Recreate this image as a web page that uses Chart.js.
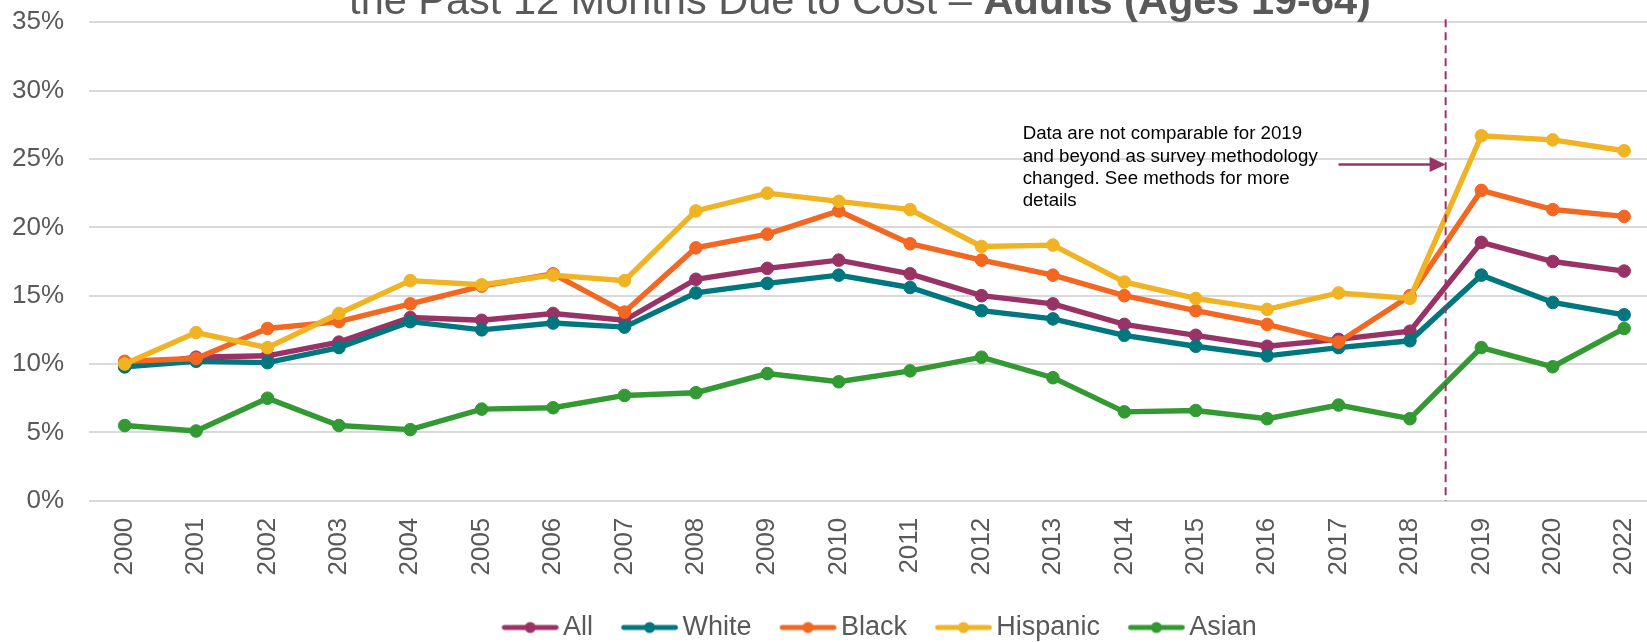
<!DOCTYPE html>
<html>
<head>
<meta charset="utf-8">
<script src="https://cdn.jsdelivr.net/npm/chart.js@4.4.1/dist/chart.umd.min.js"></script>
<style>
html,body{margin:0;padding:0;background:#ffffff;}
#wrap{width:1647px;height:642px;position:relative;}
</style>
</head>
<body>
<div id="wrap"><canvas id="c"></canvas></div>
<script>
// ---- data ----
const years = ['2000','2001','2002','2003','2004','2005','2006','2007','2008','2009','2010','2011','2012','2013','2014','2015','2016','2017','2018','2019','2020','2022'];
const seriesNames = ['All','White','Black','Hispanic','Asian'];
const allAdults = [9.8,10.5,10.6,11.6,13.4,13.2,13.7,13.2,16.2,17.0,17.6,16.6,15.0,14.4,12.9,12.1,11.3,11.8,12.4,18.9,17.5,16.8];
const white     = [9.8,10.2,10.1,11.2,13.1,12.5,13.0,12.7,15.2,15.9,16.5,15.6,13.9,13.3,12.1,11.3,10.6,11.2,11.7,16.5,14.5,13.6];
const black     = [10.2,10.4,12.6,13.1,14.4,15.7,16.6,13.8,18.5,19.5,21.2,18.8,17.6,16.5,15.0,13.9,12.9,11.6,15.0,22.7,21.3,20.8];
const hispanic  = [10.0,12.3,11.2,13.7,16.1,15.8,16.5,16.1,21.2,22.5,21.9,21.3,18.6,18.7,16.0,14.8,14.0,15.2,14.8,26.7,26.4,25.6];
const asian     = [5.5,5.1,7.5,5.5,5.2,6.7,6.8,7.7,7.9,9.3,8.7,9.5,10.5,9.0,6.5,6.6,6.0,7.0,6.0,11.2,9.8,12.6];
const yTickValues = [0,5,10,15,20,25,30,35];
const titleRegular = 'the Past 12 Months Due to Cost \u2013 ';
const titleBold = 'Adults (Ages 19-64)';
const noteLines = ['Data are not comparable for 2019','and beyond as survey methodology','changed. See methods for more','details'];
const breakPosition = 18.5;   // between 2018 and 2019
const arrowLevel = 24.6;      // % level of the annotation arrow
const arrowStart = 17.0;

// ---- styles ----
const FONT = '"Liberation Sans", Arial, Helvetica, sans-serif';
const GRAY = '#595959';
const colors = ['#993366','#00777F','#F26722','#F0B323','#339933'];
const seriesValues = [allAdults, white, black, hispanic, asian];

// legend symbol: line with a dot, placed on the right part of a wider transparent image
function legendIcon(color){
  const c = document.createElement('canvas');
  c.width = 86; c.height = 14;
  const g = c.getContext('2d');
  const s = 28.05;
  g.strokeStyle = color; g.lineWidth = 4.8; g.lineCap = 'round';
  g.beginPath(); g.moveTo(s + 2.5, 7); g.lineTo(s + 54.5, 7); g.stroke();
  g.fillStyle = color; g.beginPath(); g.arc(s + 28.5, 7, 5.5, 0, Math.PI * 2); g.fill();
  return c;
}
const icons = colors.map(legendIcon);

const datasets = seriesNames.map((name,k)=>({
  label: name,
  data: seriesValues[k].map((v,i)=>({x:i,y:v})),
  borderColor: colors[k],
  backgroundColor: colors[k],
  pointBackgroundColor: colors[k],
  pointBorderColor: colors[k],
  borderWidth: 5.4,
  pointRadius: 6.3,
  pointBorderWidth: 1,
  tension: 0,
  order: seriesNames.length - 1 - k
}));

const LEGEND_H = 47; // 27 font + 10 padding + 10

const overlayPlugin = {
  id: 'overlay',
  afterLayout(chart){
    const lg = chart.legend;
    if (!lg || !lg.lineWidths) return;
    const pad = lg.options.labels.padding;
    const cur = (lg.left + pad + lg.right - lg.lineWidths[0]) / 2;
    const dx = 483.7 - cur;
    lg.left += dx; lg.right += dx;
    lg.top += 9; lg.bottom += 9;
  },
  afterDatasetsDraw(chart){
    const ctx = chart.ctx, xs = chart.scales.x, ys = chart.scales.y;
    const bx = xs.getPixelForValue(breakPosition);
    ctx.save();
    ctx.strokeStyle = '#A0306B'; ctx.lineWidth = 2; ctx.setLineDash([8,5]);
    ctx.beginPath(); ctx.moveTo(bx, ys.top - 3); ctx.lineTo(bx, ys.bottom); ctx.stroke();
    ctx.setLineDash([]);
    // arrow
    const ay = ys.getPixelForValue(arrowLevel);
    const ax0 = xs.getPixelForValue(arrowStart);
    ctx.strokeStyle = '#993366'; ctx.fillStyle = '#993366'; ctx.lineWidth = 2.5;
    ctx.beginPath(); ctx.moveTo(ax0, ay); ctx.lineTo(bx - 14, ay); ctx.stroke();
    ctx.beginPath(); ctx.moveTo(bx, ay); ctx.lineTo(bx - 16, ay - 7.5); ctx.lineTo(bx - 16, ay + 7.5); ctx.closePath(); ctx.fill();
    // note text
    ctx.fillStyle = '#000000'; ctx.font = '18.7px ' + FONT; ctx.textAlign = 'left'; ctx.textBaseline = 'alphabetic';
    noteLines.forEach((t,i)=>ctx.fillText(t, 1022.7, 139.3 + i*22.2));
    ctx.restore();
  },
  afterDraw(chart){
    const ctx = chart.ctx;
    ctx.save();
    ctx.fillStyle = GRAY; ctx.textAlign = 'left'; ctx.textBaseline = 'alphabetic';
    ctx.font = '41.5px ' + FONT; const w1 = ctx.measureText(titleRegular).width;
    ctx.font = 'bold 41.5px ' + FONT; const w2 = ctx.measureText(titleBold).width;
    const x0 = 860 - (w1 + w2) / 2;
    ctx.font = '41.5px ' + FONT; ctx.fillText(titleRegular, x0, 14);
    ctx.font = 'bold 41.5px ' + FONT; ctx.fillText(titleBold, x0 + w1, 14);
    ctx.restore();
  }
};

new Chart(document.getElementById('c'), {
  type: 'line',
  data: { datasets },
  options: {
    responsive: true,
    maintainAspectRatio: false,
    animation: false,
    events: [],
    layout: { autoPadding: false, padding: { top: 22.3, left: 0, right: 0, bottom: 0 } },
    scales: {
      x: {
        type: 'linear', min: -0.5, max: 21.32, bounds: 'data',
        grid: { display: false, drawTicks: false },
        border: { display: false },
        ticks: {
          autoSkip: false, maxRotation: 90, minRotation: 90, padding: 17, includeBounds: false,
          color: GRAY, font: { family: FONT, size: 26 },
          callback: v => (years[v] !== undefined ? years[v] : '')
        },
        afterBuildTicks: s => { s.ticks = years.map((_,i)=>({value:i})); },
        afterFit: s => { s.height = 642 - LEGEND_H - 500.7; s.paddingLeft = 0; s.paddingRight = 0; }
      },
      y: {
        min: 0, max: 35,
        grid: { color: '#D9D9D9', lineWidth: 2, drawTicks: false },
        border: { display: false },
        ticks: {
          padding: 25, color: GRAY, font: { family: FONT, size: 26 },
          callback: v => v + '%'
        },
        afterBuildTicks: s => { s.ticks = yTickValues.map(v=>({value:v})); },
        afterFit: s => { s.width = 89; s.paddingTop = 0; s.paddingBottom = 0; }
      }
    },
    plugins: {
      tooltip: { enabled: false },
      title: { display: false },
      legend: {
        display: true, position: 'bottom', align: 'center',
        labels: {
          usePointStyle: true, pointStyleWidth: 65.9, padding: 10,
          color: GRAY, font: { family: FONT, size: 27 },
          sort: (a,b) => a.datasetIndex - b.datasetIndex,
          generateLabels: chart => Chart.defaults.plugins.legend.labels.generateLabels(chart)
            .map(it => Object.assign(it, { pointStyle: icons[it.datasetIndex], fontColor: GRAY }))
        }
      }
    }
  },
  plugins: [overlayPlugin]
});
</script>
</body>
</html>
